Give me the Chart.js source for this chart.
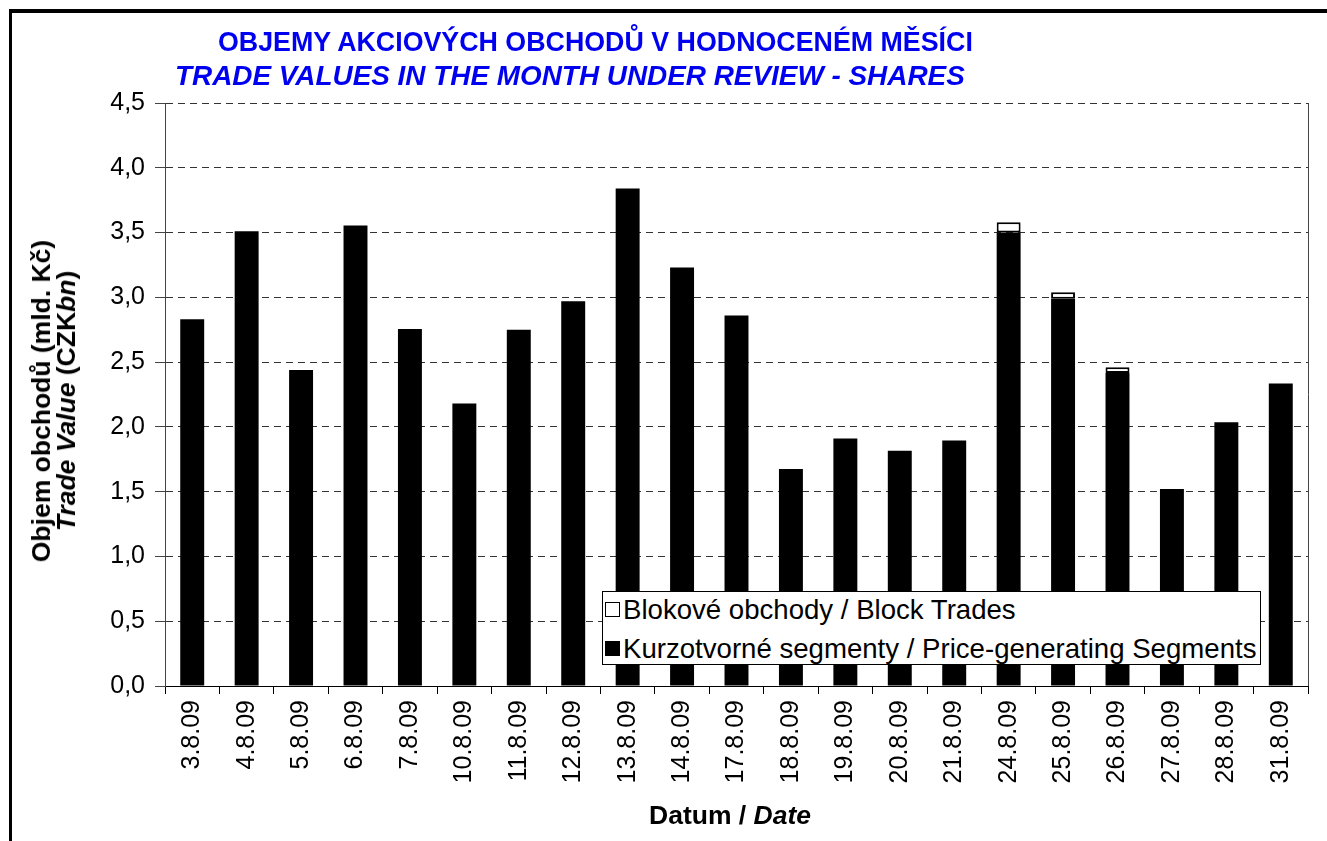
<!DOCTYPE html>
<html>
<head>
<meta charset="utf-8">
<script src="https://cdn.jsdelivr.net/npm/chart.js@4.4.0/dist/chart.umd.min.js"></script>
<style>
html,body{margin:0;padding:0;background:#fff;width:1327px;height:841px;overflow:hidden;font-family:'Liberation Sans',Arial,sans-serif;}
#wrap{position:relative;width:1327px;height:841px;overflow:hidden;}
#chart{position:absolute;left:0;top:0;}
#frame{position:absolute;left:9px;top:9px;width:2000px;height:2000px;border-top:4px solid #000;border-left:3px solid #000;pointer-events:none;}
.t{position:absolute;white-space:nowrap;font-weight:bold;line-height:26px;}
#title1{left:218px;top:29px;font-size:26.8px;color:#0000f0;}
#title2{left:175px;top:63px;font-size:27.9px;color:#0000f0;font-style:italic;}
#xtitle{left:730px;top:802px;font-size:26.5px;color:#000;transform:translateX(-50%);}
#ytitle{left:54px;top:401px;font-size:26.5px;color:#000;line-height:25px;text-align:center;transform:translate(-50%,-50%) rotate(-90deg);}
#legend{position:absolute;left:602px;top:591px;width:659px;height:74px;border:1px solid #000;background:#fff;box-sizing:border-box;}
.li{position:absolute;left:2px;height:30px;white-space:nowrap;font-size:27.6px;line-height:30px;color:#000;}
.sw{display:inline-block;width:13px;height:13px;border:1.5px solid #000;vertical-align:middle;margin-right:3px;position:relative;top:-2px;}
</style>
</head>
<body>
<div id="wrap">
  <canvas id="chart" width="1327" height="841"></canvas>
  <div class="t" id="title1">OBJEMY AKCIOVÝCH OBCHODŮ V HODNOCENÉM MĚSÍCI</div>
  <div class="t" id="title2">TRADE VALUES IN THE MONTH UNDER REVIEW - SHARES</div>
  <div class="t" id="ytitle">Objem obchodů (mld. Kč)<br><i>Trade Value</i> (CZK<i>bn</i>)</div>
  <div class="t" id="xtitle">Datum / <i>Date</i></div>
  <div id="legend"></div>
  <div id="frame"></div>
</div>
<script>
// ---- data ----
const categories = ['3.8.09','4.8.09','5.8.09','6.8.09','7.8.09','10.8.09','11.8.09','12.8.09','13.8.09','14.8.09','17.8.09','18.8.09','19.8.09','20.8.09','21.8.09','24.8.09','25.8.09','26.8.09','27.8.09','28.8.09','31.8.09'];
const priceGenerating = [2.83, 3.51, 2.44, 3.555, 2.755, 2.18, 2.75, 2.97, 3.84, 3.23, 2.86, 1.675, 1.91, 1.815, 1.895, 3.50, 2.99, 2.415, 1.52, 2.035, 2.335];
const blockTrades = [0, 0, 0, 0, 0, 0, 0, 0, 0, 0, 0, 0, 0, 0, 0, 0.08, 0.05, 0.045, 0, 0, 0];
const seriesLabels = ['Kurzotvorné segmenty / Price-generating Segments', 'Blokové obchody / Block Trades'];
const yMin = 0, yMax = 4.5, yStep = 0.5;

const FONT = "'Liberation Sans', Arial, sans-serif";
Chart.defaults.font.family = FONT;
Chart.defaults.color = '#000';

const plotFrame = {
  id: 'plotFrame',
  afterDraw(chart) {
    const {ctx, chartArea: a} = chart;
    ctx.save();
    ctx.strokeStyle = '#444';
    ctx.lineWidth = 1;
    ctx.beginPath();
    const x = Math.round(a.right) + 0.5;
    ctx.moveTo(x, a.top);
    ctx.lineTo(x, a.bottom);
    ctx.stroke();
    ctx.restore();
  }
};

const chart = new Chart(document.getElementById('chart'), {
  type: 'bar',
  data: {
    labels: categories,
    datasets: [
      {
        label: seriesLabels[0],
        data: priceGenerating,
        backgroundColor: '#000',
        borderColor: '#000',
        borderWidth: 0,
        categoryPercentage: 1,
        barPercentage: 0.44
      },
      {
        label: seriesLabels[1],
        data: blockTrades,
        backgroundColor: '#fff',
        borderColor: '#000',
        borderWidth: 2,
        borderSkipped: false,
        inflateAmount: 0,
        categoryPercentage: 1,
        barPercentage: 0.44
      }
    ]
  },
  options: {
    responsive: false,
    animation: false,
    layout: { padding: { top: 103, right: 19, left: 0, bottom: 0 } },
    plugins: { legend: { display: false }, title: { display: false }, tooltip: { enabled: false } },
    scales: {
      x: {
        stacked: true,
        afterFit(s) { s.height = 155; },
        ticks: { autoSkip: false, maxRotation: 90, minRotation: 90, padding: 6, color: '#000', font: { size: 25 } },
        grid: { display: true, drawOnChartArea: false, offset: true, tickLength: 8, color: '#000' },
        border: { display: true, color: '#000', width: 1 }
      },
      y: {
        stacked: true,
        min: yMin, max: yMax,
        afterFit(s) { s.width = 165; },
        ticks: { stepSize: yStep, padding: 10, color: '#000', font: { size: 25 },
          callback: v => Number(v).toFixed(1).replace('.', ',') },
        grid: { color: '#333', lineWidth: 1, tickLength: 10, tickColor: '#444', tickBorderDash: [] },
        border: { display: true, color: '#444', width: 1, dash: [7, 5] }
      }
    }
  },
  plugins: [plotFrame]
});

// legend built from the chart's datasets (reversed, as in the original)
const legend = document.getElementById('legend');
const tops = [3, 42];
chart.data.datasets.slice().reverse().forEach((ds, i) => {
  const item = document.createElement('div');
  item.className = 'li';
  item.style.top = tops[i] + 'px';
  const sw = document.createElement('span');
  sw.className = 'sw';
  sw.style.background = ds.backgroundColor;
  item.appendChild(sw);
  item.appendChild(document.createTextNode(ds.label));
  legend.appendChild(item);
});
</script>
</body>
</html>
